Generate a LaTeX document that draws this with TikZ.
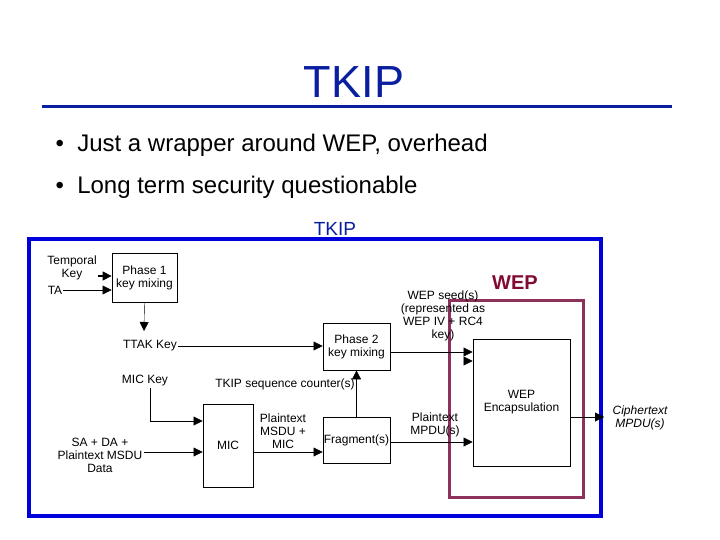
\documentclass[tikz,border=0pt]{standalone}
\usepackage{fontspec}
\setmainfont{Liberation Sans}
\usetikzlibrary{arrows.meta, positioning}
\definecolor{tb}{RGB}{10, 30, 160}
\definecolor{fb}{RGB}{0, 0, 220}
\definecolor{wp}{RGB}{140, 50, 90}
\definecolor{wt}{RGB}{130, 10, 50}
\tikzset{
    blk/.style={draw, thick, align=center, font=\fontsize{12}{13}\selectfont, inner sep=1pt},
    lbl/.style={align=center, font=\fontsize{12}{13}\selectfont, inner sep=1pt},
    arr/.style={-{Triangle[length=9pt, width=9pt]}}
}
\begin{document}
\begin{tikzpicture}[x=1pt, y=-1pt]
			\useasboundingbox (0, 0) rectangle (720, 540);
			
			% title and bullets
			\node[text=tb, font=\fontsize{45}{48}\selectfont] (title) at (354, 82) {TKIP};
			\draw[tb, line width=3pt] (42, 107) -- (672, 107);
			\node[anchor=west, font=\fontsize{24}{27}\selectfont] (b1) at (52, 145) {\textbullet\ \ Just a wrapper around WEP, overhead};
			\node[anchor=west, font=\fontsize{24}{27}\selectfont] (b2) at (52, 187) {\textbullet\ \ Long term security questionable};
			\node[text=tb, font=\fontsize{19}{22}\selectfont] (tkip) at (335, 229) {TKIP};
			
			% frames
			\draw[fb, line width=3.5pt] (29, 239) rectangle (601, 516);
			\draw[wp, line width=3pt] (449, 300) rectangle (583, 497);
			\node[text=wt, font=\bfseries\fontsize{20}{22}\selectfont] (wep) at (515, 283) {WEP};
			
			% boxes
			\node[blk, minimum width=65, minimum height=49] (p1) at (144.5, 277.5) {Phase 1\\key mixing};
			\node[blk, minimum width=67, minimum height=47] (p2) at (356.5, 346.5) {Phase 2\\key mixing};
			\node[blk, minimum width=50, minimum height=83] (mic) at (228, 445.5) {MIC};
			\node[blk, minimum width=67, minimum height=46, inner sep=0pt] (frag) at (356.5, 440) {Fragment(s)};
			\node[blk, minimum width=97, minimum height=127] (enc) at (521.5, 402.5) {WEP\\Encapsulation};
			
			% labels
			\node[lbl] (tk) at (72, 268) {Temporal\\Key};
			\node[lbl] (ta) at (55, 290) {TA};
			\node[lbl] (ttak) at (150, 346) {TTAK Key};
			\node[lbl] (mick) at (145, 381) {MIC Key};
			\node[lbl] (sa) at (100, 455) {SA + DA +\\Plaintext MSDU\\Data};
			\node[lbl] (pm) at (283, 431) {Plaintext\\MSDU +\\MIC};
			\node[lbl] (seq) at (285, 384) {TKIP sequence counter(s)};
			\node[lbl] (seed) at (443, 316) {WEP seed(s)\\(represented as\\WEP IV + RC4\\key)};
			\node[lbl] (pmp) at (435, 425) {Plaintext\\MPDU(s)};
			\node[lbl, font=\itshape\fontsize{12}{13}\selectfont] (ct) at (640, 418) {Ciphertext\\MPDU(s)};
			\coordinate (mk) at (150, 421);
			\coordinate (out) at (604, 417);
			
			% connectors
			\draw[arr, very thick] (tk.east |- 0, 276) -- (p1.west |- 0, 276);
			\draw[arr] (ta.east) -- (p1.west |- ta);
			\draw[arr] (p1.south) -- (144, 331);
			\draw[arr] (ttak.east) -- (p2.west |- ttak);
			\draw[arr] (mick.south -| mk) -- (mk) -- (mic.west |- mk);
			\draw[arr] (sa.east |- 0, 452) -- (mic.west |- 0, 452);
			\draw[arr] (mic.east |- 0, 452) -- (frag.west |- 0, 452);
			\draw[arr, thick] (frag.north) -- (p2.south);
			\draw[arr] (p2.east |- 0, 352) -- (enc.west |- 0, 352);
			\draw[arr] (enc.west |- 0, 361) ++(-9, 0) -- (enc.west |- 0, 361);
			\draw[arr] (frag.east |- 0, 442) -- (enc.west |- 0, 442);
			\draw[arr] (enc.east |- out) -- (out);
		\end{tikzpicture}
\end{document}
